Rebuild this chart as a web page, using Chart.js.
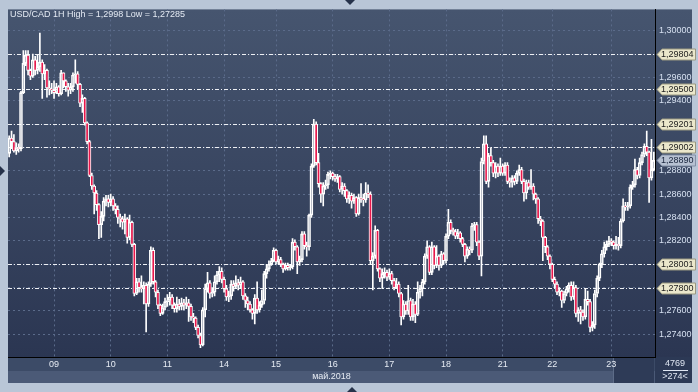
<!DOCTYPE html>
<html>
<head>
<meta charset="utf-8">
<script src="https://cdn.jsdelivr.net/npm/chart.js@4.4.0/dist/chart.umd.min.js"></script>
<style>
  html, body { margin: 0; padding: 0; background: #b9c6d7; }
  #wrap { width: 698px; height: 392px; }
</style>
</head>
<body>
<div id="wrap"><canvas id="chart" width="698" height="392"></canvas></div>
<script>
/* USD/CAD 1H candles, 08-23 May 2018 */

var FIRST_OPEN = 1.2895;
var CLOSE = [
  1.2908, 1.2905, 1.2897, 1.2900, 1.2899, 1.2947, 1.2972, 1.2979, 1.2966, 1.2961,
  1.2975, 1.2966, 1.2969, 1.2973, 1.2963, 1.2966, 1.2951, 1.2950, 1.2949, 1.2947,
  1.2952, 1.2946, 1.2964, 1.2957, 1.2952, 1.2949, 1.2952, 1.2962, 1.2963, 1.2954,
  1.2938, 1.2942, 1.2921, 1.2905, 1.2876, 1.2867, 1.2861, 1.2851, 1.2834, 1.2841,
  1.2854, 1.2856, 1.2853, 1.2856, 1.2850, 1.2847, 1.2840, 1.2839, 1.2836, 1.2839,
  1.2823, 1.2836, 1.2817, 1.2775, 1.2785, 1.2780, 1.2779, 1.2782, 1.2766, 1.2783,
  1.2812, 1.2785, 1.2776, 1.2765, 1.2758, 1.2763, 1.2768, 1.2769, 1.2772, 1.2765,
  1.2762, 1.2766, 1.2764, 1.2767, 1.2765, 1.2767, 1.2764, 1.2755, 1.2754, 1.2746,
  1.2739, 1.2731, 1.2761, 1.2779, 1.2784, 1.2775, 1.2776, 1.2785, 1.2791, 1.2794,
  1.2787, 1.2779, 1.2772, 1.2773, 1.2783, 1.2781, 1.2784, 1.2782, 1.2785, 1.2773,
  1.2769, 1.2766, 1.2761, 1.2758, 1.2771, 1.2761, 1.2765, 1.2769, 1.2792, 1.2796,
  1.2800, 1.2803, 1.2812, 1.2802, 1.2804, 1.2800, 1.2796, 1.2799, 1.2797, 1.2798,
  1.2819, 1.2815, 1.2802, 1.2804, 1.2826, 1.2816, 1.2815, 1.2842, 1.2884, 1.2920,
  1.2887, 1.2869, 1.2860, 1.2867, 1.2868, 1.2877, 1.2878, 1.2875, 1.2873, 1.2875,
  1.2864, 1.2867, 1.2863, 1.2856, 1.2859, 1.2854, 1.2857, 1.2843, 1.2857, 1.2856,
  1.2855, 1.2861, 1.2860, 1.2803, 1.2807, 1.2829, 1.2796, 1.2788, 1.2792, 1.2793,
  1.2789, 1.2792, 1.2786, 1.2780, 1.2783, 1.2775, 1.2755, 1.2766, 1.2760, 1.2769,
  1.2755, 1.2766, 1.2757, 1.2776, 1.2779, 1.2785, 1.2807, 1.2815, 1.2793, 1.2815,
  1.2799, 1.2807, 1.2799, 1.2809, 1.2803, 1.2824, 1.2836, 1.2829, 1.2828, 1.2824,
  1.2827, 1.2822, 1.2817, 1.2807, 1.2813, 1.2812, 1.2833, 1.2834, 1.2819, 1.2807,
  1.2888, 1.2903, 1.2871, 1.2893, 1.2887, 1.2878, 1.2884, 1.2878, 1.2884, 1.2878,
  1.2885, 1.2871, 1.2870, 1.2874, 1.2871, 1.2878, 1.2881, 1.2871, 1.2861, 1.2870,
  1.2866, 1.2867, 1.2860, 1.2856, 1.2839, 1.2837, 1.2823, 1.2815, 1.2807, 1.2800,
  1.2787, 1.2783, 1.2776, 1.2777, 1.2769, 1.2775, 1.2779, 1.2782, 1.2772, 1.2780,
  1.2758, 1.2761, 1.2759, 1.2755, 1.2770, 1.2768, 1.2746, 1.2748, 1.2775, 1.2788,
  1.2800, 1.2809, 1.2815, 1.2817, 1.2820, 1.2819, 1.2816, 1.2817, 1.2816, 1.2837,
  1.2850, 1.2849, 1.2850, 1.2866, 1.2868, 1.2881, 1.2876, 1.2887, 1.2894, 1.2901,
  1.2896, 1.2874, 1.2881, 1.2889
];
var HIGH = [
  1.2910, 1.2914, 1.2911, 1.2904, 1.2903, 1.2948, 1.2983, 1.2983, 1.2983, 1.2967,
  1.2980, 1.2978, 1.2979, 1.2998, 1.2975, 1.2971, 1.2967, 1.2957, 1.2955, 1.2957,
  1.2955, 1.2953, 1.2966, 1.2964, 1.2958, 1.2955, 1.2955, 1.2964, 1.2975, 1.2965,
  1.2955, 1.2945, 1.2943, 1.2922, 1.2906, 1.2878, 1.2868, 1.2863, 1.2852, 1.2845,
  1.2857, 1.2859, 1.2859, 1.2860, 1.2858, 1.2852, 1.2850, 1.2843, 1.2841, 1.2843,
  1.2840, 1.2842, 1.2837, 1.2818, 1.2788, 1.2788, 1.2790, 1.2785, 1.2784, 1.2785,
  1.2815, 1.2814, 1.2786, 1.2778, 1.2766, 1.2766, 1.2771, 1.2774, 1.2776, 1.2774,
  1.2767, 1.2772, 1.2770, 1.2771, 1.2770, 1.2772, 1.2770, 1.2766, 1.2758, 1.2755,
  1.2748, 1.2741, 1.2763, 1.2783, 1.2793, 1.2786, 1.2780, 1.2790, 1.2794, 1.2798,
  1.2797, 1.2789, 1.2782, 1.2777, 1.2786, 1.2786, 1.2790, 1.2787, 1.2789, 1.2786,
  1.2775, 1.2772, 1.2768, 1.2762, 1.2774, 1.2785, 1.2768, 1.2778, 1.2794, 1.2800,
  1.2803, 1.2805, 1.2814, 1.2813, 1.2807, 1.2806, 1.2801, 1.2801, 1.2801, 1.2800,
  1.2822, 1.2821, 1.2816, 1.2807, 1.2828, 1.2828, 1.2819, 1.2843, 1.2886, 1.2924,
  1.2922, 1.2895, 1.2870, 1.2870, 1.2872, 1.2879, 1.2880, 1.2879, 1.2877, 1.2877,
  1.2876, 1.2870, 1.2869, 1.2864, 1.2862, 1.2861, 1.2860, 1.2858, 1.2860, 1.2869,
  1.2860, 1.2870, 1.2868, 1.2862, 1.2810, 1.2833, 1.2830, 1.2797, 1.2796, 1.2797,
  1.2795, 1.2796, 1.2794, 1.2788, 1.2788, 1.2785, 1.2776, 1.2769, 1.2768, 1.2782,
  1.2771, 1.2770, 1.2768, 1.2785, 1.2782, 1.2787, 1.2809, 1.2820, 1.2816, 1.2819,
  1.2816, 1.2816, 1.2808, 1.2811, 1.2810, 1.2826, 1.2847, 1.2838, 1.2831, 1.2830,
  1.2830, 1.2828, 1.2823, 1.2818, 1.2815, 1.2815, 1.2835, 1.2836, 1.2836, 1.2820,
  1.2891, 1.2910, 1.2910, 1.2895, 1.2900, 1.2889, 1.2887, 1.2886, 1.2891, 1.2886,
  1.2887, 1.2887, 1.2874, 1.2876, 1.2876, 1.2880, 1.2885, 1.2883, 1.2873, 1.2872,
  1.2872, 1.2881, 1.2869, 1.2861, 1.2857, 1.2841, 1.2838, 1.2824, 1.2816, 1.2808,
  1.2801, 1.2789, 1.2785, 1.2780, 1.2778, 1.2777, 1.2781, 1.2784, 1.2785, 1.2785,
  1.2782, 1.2763, 1.2764, 1.2761, 1.2779, 1.2777, 1.2770, 1.2751, 1.2778, 1.2790,
  1.2801, 1.2812, 1.2819, 1.2820, 1.2824, 1.2822, 1.2820, 1.2824, 1.2823, 1.2839,
  1.2856, 1.2853, 1.2853, 1.2868, 1.2871, 1.2890, 1.2883, 1.2891, 1.2896, 1.2903,
  1.2914, 1.2897, 1.2907, 1.2896
];
var LOW = [
  1.2892, 1.2899, 1.2896, 1.2894, 1.2896, 1.2897, 1.2946, 1.2970, 1.2962, 1.2958,
  1.2960, 1.2962, 1.2963, 1.2965, 1.2942, 1.2958, 1.2943, 1.2945, 1.2946, 1.2942,
  1.2946, 1.2944, 1.2945, 1.2951, 1.2948, 1.2944, 1.2946, 1.2948, 1.2955, 1.2950,
  1.2935, 1.2930, 1.2919, 1.2903, 1.2875, 1.2864, 1.2843, 1.2846, 1.2822, 1.2823,
  1.2837, 1.2850, 1.2849, 1.2850, 1.2846, 1.2843, 1.2835, 1.2832, 1.2830, 1.2826,
  1.2818, 1.2821, 1.2815, 1.2773, 1.2774, 1.2776, 1.2776, 1.2766, 1.2742, 1.2764,
  1.2781, 1.2783, 1.2772, 1.2762, 1.2756, 1.2757, 1.2761, 1.2764, 1.2765, 1.2762,
  1.2759, 1.2759, 1.2761, 1.2761, 1.2761, 1.2762, 1.2751, 1.2752, 1.2750, 1.2744,
  1.2737, 1.27285, 1.2730, 1.2755, 1.2776, 1.2771, 1.2772, 1.2773, 1.2783, 1.2785,
  1.2784, 1.2776, 1.2769, 1.2768, 1.2770, 1.2777, 1.2779, 1.2778, 1.2779, 1.2770,
  1.2763, 1.2761, 1.2759, 1.2753, 1.2749, 1.2758, 1.2759, 1.2763, 1.2766, 1.2788,
  1.2794, 1.2799, 1.2802, 1.2800, 1.2800, 1.2798, 1.2793, 1.2795, 1.2795, 1.2795,
  1.2796, 1.2812, 1.2792, 1.2799, 1.2802, 1.2813, 1.2807, 1.2812, 1.2840, 1.2883,
  1.2885, 1.2866, 1.2853, 1.2850, 1.2864, 1.2865, 1.2873, 1.2872, 1.2871, 1.2870,
  1.2862, 1.2860, 1.2858, 1.2853, 1.2852, 1.2848, 1.2852, 1.2841, 1.2842, 1.2853,
  1.2850, 1.2853, 1.2857, 1.2800, 1.2778, 1.2805, 1.2794, 1.2785, 1.2779, 1.2788,
  1.2786, 1.2787, 1.2783, 1.2778, 1.2779, 1.2772, 1.2748, 1.2753, 1.2757, 1.2757,
  1.2752, 1.2752, 1.2750, 1.2756, 1.2771, 1.2773, 1.2783, 1.2805, 1.2791, 1.2791,
  1.2796, 1.2797, 1.2795, 1.2797, 1.2800, 1.2801, 1.2822, 1.2826, 1.2825, 1.2822,
  1.2822, 1.2819, 1.2815, 1.2802, 1.2805, 1.2808, 1.2810, 1.2829, 1.2816, 1.2804,
  1.2790, 1.2886, 1.2869, 1.2866, 1.2884, 1.2875, 1.2874, 1.2875, 1.2876, 1.2876,
  1.2876, 1.2869, 1.2866, 1.2866, 1.2868, 1.2869, 1.2876, 1.2869, 1.2854, 1.2856,
  1.2864, 1.2864, 1.2855, 1.2852, 1.2835, 1.2833, 1.2803, 1.2810, 1.2804, 1.2796,
  1.2785, 1.2780, 1.2774, 1.2773, 1.2763, 1.2767, 1.2773, 1.2776, 1.2769, 1.2770,
  1.2755, 1.2751, 1.2749, 1.2752, 1.2753, 1.2765, 1.2742, 1.2743, 1.2745, 1.2772,
  1.2786, 1.2797, 1.2806, 1.2812, 1.2815, 1.2816, 1.2813, 1.2813, 1.2812, 1.2814,
  1.2836, 1.2846, 1.2846, 1.2848, 1.2864, 1.2866, 1.2873, 1.2874, 1.2885, 1.2892,
  1.2893, 1.2853, 1.2872, 1.2880
];

var DAY_TICKS = [19, 43, 67, 91, 113, 137, 161, 185, 209, 230, 255];
var DAY_LABELS = ['09', '10', '11', '14', '15', '16', '17', '18', '21', '22', '23'];
var PRICE_TICKS = [1.274, 1.276, 1.278, 1.280, 1.282, 1.284, 1.286, 1.288, 1.290, 1.292, 1.294, 1.296, 1.298, 1.300];
var LEVELS = [1.29804, 1.29500, 1.29201, 1.29002, 1.28001, 1.27800];
var LAST_PRICE = 1.28890;
var CHART_TITLE = 'USD/CAD 1H High = 1,2998 Low = 1,27285';
var MONTH_LABEL = 'май.2018';
var BARS_TOTAL = '4769';
var BARS_VISIBLE = '>274<';

var Y_MIN = 1.27206;
var Y_MAX = 1.30182;
var FONT = '"Liberation Sans", Arial, sans-serif';
var WHITE = '#ffffff';
var RED = '#e8174b';

function fmtPrice(v) {
  return v.toFixed(5).replace('.', ',');
}

// bodies plus the parts of the wick that stick out above / below them
function buildCandles() {
  var out = { bodies: [], wickHi: [], wickLo: [], fill: [] };
  var k;
  for (k = 0; k < CLOSE.length; k += 1) {
    var o = k === 0 ? FIRST_OPEN : CLOSE[k - 1];
    var hiEdge = Math.max(o, CLOSE[k]);
    var loEdge = Math.min(o, CLOSE[k]);
    out.bodies.push({ x: k, y: [loEdge, hiEdge] });
    out.wickHi.push({ x: k, y: [hiEdge, HIGH[k]] });
    out.wickLo.push({ x: k, y: [LOW[k], loEdge] });
    out.fill.push(CLOSE[k] < o ? RED : 'rgba(0,0,0,0)');
  }
  return out;
}

var candles = buildCandles();

function arrowBox(ctx, y, fill, stroke, textColor, text) {
  var x0 = 657, x1 = 695, h = 11;
  var yy = Math.round(y);
  ctx.save();
  ctx.beginPath();
  ctx.moveTo(x0, yy + 0.5);
  ctx.lineTo(x0 + 5, yy - h / 2 + 0.5);
  ctx.lineTo(x1 + 0.5, yy - h / 2 + 0.5);
  ctx.lineTo(x1 + 0.5, yy + h / 2 + 0.5);
  ctx.lineTo(x0 + 5, yy + h / 2 + 0.5);
  ctx.closePath();
  ctx.fillStyle = fill;
  ctx.fill();
  ctx.strokeStyle = stroke;
  ctx.lineWidth = 1;
  ctx.stroke();
  ctx.fillStyle = textColor;
  ctx.font = '9px ' + FONT;
  ctx.textBaseline = 'middle';
  ctx.textAlign = 'left';
  ctx.fillText(text, 661, yy + 1);
  ctx.restore();
}

var terminalLook = {
  id: 'terminalLook',
  beforeDraw: function (chart) {
    var ctx = chart.ctx;
    var a = chart.chartArea;
    ctx.save();
    ctx.fillStyle = '#b9c6d7';
    ctx.fillRect(0, 0, chart.width, chart.height);
    var g = ctx.createLinearGradient(0, a.top, 0, a.bottom);
    g.addColorStop(0, '#46556f');
    g.addColorStop(1, '#2b3652');
    ctx.fillStyle = g;
    ctx.fillRect(a.left, a.top, 692 - a.left, a.bottom - a.top);
    ctx.fillStyle = '#3c4b67';
    ctx.fillRect(a.left, a.bottom, a.right - a.left, 14);
    ctx.fillStyle = '#4b5a77';
    ctx.fillRect(a.left, a.bottom + 14, a.right - a.left, 12);
    ctx.fillStyle = '#2e3b57';
    ctx.fillRect(613, a.bottom + 1, 41, 25);
    ctx.fillStyle = '#5d6c88';
    ctx.fillRect(613, a.bottom + 1, 1, 25);
    ctx.fillStyle = '#2c3955';
    ctx.fillRect(a.right, a.bottom, 692 - a.right, 26);
    ctx.restore();
  },
  beforeDatasetsDraw: function (chart) {
    var ctx = chart.ctx;
    var a = chart.chartArea;
    var y = chart.scales.y;
    ctx.save();
    ctx.strokeStyle = '#eef0f4';
    ctx.lineWidth = 1;
    ctx.setLineDash([4, 2, 1, 2]);
    LEVELS.forEach(function (lv) {
      var py = Math.round(y.getPixelForValue(lv)) + 0.5;
      ctx.beginPath();
      ctx.moveTo(a.left, py);
      ctx.lineTo(a.right, py);
      ctx.stroke();
    });
    ctx.restore();
  },
  afterDraw: function (chart) {
    var ctx = chart.ctx;
    var a = chart.chartArea;
    var y = chart.scales.y;
    ctx.save();
    ctx.fillStyle = '#e4eaf3';
    ctx.font = '9px ' + FONT;
    ctx.textBaseline = 'middle';
    ctx.textAlign = 'left';
    ctx.fillText(CHART_TITLE, 10, 15);

    LEVELS.forEach(function (lv) {
      arrowBox(ctx, y.getPixelForValue(lv), '#ebe7cb', '#9a9880', '#1c1c1c', fmtPrice(lv));
    });
    arrowBox(ctx, y.getPixelForValue(LAST_PRICE), '#b7c1d2', '#8390a6', '#18243c', fmtPrice(LAST_PRICE));

    ctx.fillStyle = '#dfe6f2';
    ctx.textAlign = 'center';
    ctx.fillText(BARS_TOTAL, 675, a.bottom + 7);
    ctx.fillText(BARS_VISIBLE, 675, a.bottom + 20);
    ctx.fillRect(663, a.bottom + 13, 25, 1);

    ctx.fillStyle = '#26324a';
    ctx.beginPath();
    ctx.moveTo(345, 0); ctx.lineTo(355, 0); ctx.lineTo(350, 5); ctx.closePath(); ctx.fill();
    ctx.beginPath();
    ctx.moveTo(347, 392); ctx.lineTo(357, 392); ctx.lineTo(352, 387); ctx.closePath(); ctx.fill();
    ctx.beginPath();
    ctx.moveTo(0, 166); ctx.lineTo(0, 176); ctx.lineTo(5, 171); ctx.closePath(); ctx.fill();
    ctx.restore();
  }
};

new Chart(document.getElementById('chart'), {
  type: 'bar',
  data: {
    datasets: [
      { data: candles.wickLo, backgroundColor: WHITE, borderWidth: 0, barThickness: 1, grouped: false, order: 2 },
      { data: candles.wickHi, backgroundColor: WHITE, borderWidth: 0, barThickness: 1, grouped: false, order: 2 },
      {
        data: candles.bodies,
        backgroundColor: candles.fill,
        borderColor: WHITE,
        borderWidth: 1,
        borderSkipped: false,
        barThickness: 3,
        minBarLength: 1,
        grouped: false,
        order: 1
      }
    ]
  },
  options: {
    responsive: false,
    animation: false,
    devicePixelRatio: 1,
    layout: { padding: { left: 8, top: 8, right: 6, bottom: 9 } },
    plugins: { legend: { display: false }, tooltip: { enabled: false } },
    scales: {
      x: {
        type: 'linear',
        min: -0.5,
        max: CLOSE.length - 0.5,
        offset: false,
        afterBuildTicks: function (scale) {
          scale.ticks = DAY_TICKS.map(function (v) { return { value: v }; });
        },
        afterFit: function (scale) { scale.height = 26; },
        ticks: {
          autoSkip: false,
          maxRotation: 0,
          padding: 2,
          color: '#e6ebf3',
          font: { family: FONT, size: 9 },
          callback: function (v) {
            var k = DAY_TICKS.indexOf(v);
            return k >= 0 ? DAY_LABELS[k] : '';
          }
        },
        grid: { color: '#5b6b8a', drawTicks: false, offset: false },
        border: { display: true, color: '#000000', width: 1, dash: [2, 3] },
        title: {
          display: true,
          text: MONTH_LABEL,
          color: '#e6ebf3',
          font: { family: FONT, size: 9 },
          padding: { top: 0, bottom: 1 }
        }
      },
      y: {
        position: 'right',
        min: Y_MIN,
        max: Y_MAX,
        afterBuildTicks: function (scale) {
          scale.ticks = PRICE_TICKS.map(function (v) { return { value: v }; });
        },
        afterFit: function (scale) { scale.width = 37; },
        ticks: {
          padding: 4,
          color: '#d6e0f0',
          font: { family: FONT, size: 9 },
          callback: function (v) {
            var near = LEVELS.concat([LAST_PRICE]).some(function (lv) { return Math.abs(lv - v) < 0.0005; });
            return near ? '' : fmtPrice(v);
          }
        },
        grid: { color: '#5b6b8a', drawTicks: false },
        border: { display: true, color: '#000000', width: 1, dash: [2, 3] }
      }
    }
  },
  plugins: [terminalLook]
});
</script>
</body>
</html>
